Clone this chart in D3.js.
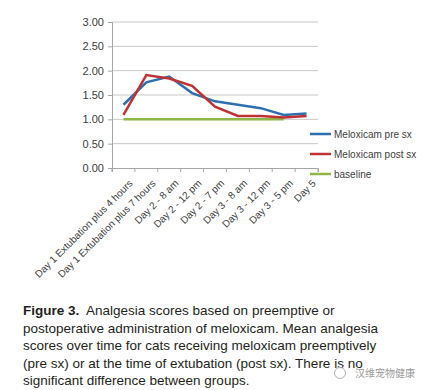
<!DOCTYPE html>
<html>
<head>
<meta charset="utf-8">
<title>Figure 3</title>
<style>
  body { margin: 0; background: #fff; }
  .tick text { font: 10px "Liberation Sans", Arial, sans-serif; fill: #404040; }
  .caption { font: 13.5px "Liberation Sans", Arial, sans-serif; fill: #231f20; }
  .legend text { font: 10px "Liberation Sans", Arial, sans-serif; fill: #404040; }
</style>
</head>
<body>
<script src="https://cdnjs.cloudflare.com/ajax/libs/d3/7.8.5/d3.min.js"></script>
<script>
  // Data
  const categories = ["Day 1 Extubation plus 4 hours", "Day 1 Extubation plus 7 hours",
    "Day 2 - 8 am", "Day 2 - 12 pm", "Day 2 - 7 pm", "Day 3 -  8 am",
    "Day 3 - 12 pm", "Day 3 - 5 pm", "Day 5"];
  const preSx = [1.30, 1.76, 1.88, 1.54, 1.37, 1.30, 1.23, 1.09, 1.12];
  const postSx = [1.09, 1.91, 1.84, 1.69, 1.26, 1.07, 1.07, 1.04, 1.07];
  const baseline = [1, 1, 1, 1, 1, 1, 1, 1, null];
  const yTicks = [0, 0.5, 1, 1.5, 2, 2.5, 3];

  const series = [
    {name: "Meloxicam pre sx", values: preSx, color: "#2e6fb0"},
    {name: "Meloxicam post sx", values: postSx, color: "#be3234"},
    {name: "baseline", values: baseline, color: "#8db54a"}
  ];

  const svg = d3.select("body").append("svg")
    .attr("width", 428).attr("height", 390);

  const x = d3.scaleBand().domain(categories).range([112, 318]);
  const y = d3.scaleLinear().domain([0, 3]).range([168, 22]);

  // gridlines
  svg.append("g").selectAll("line").data(yTicks.slice(1)).join("line")
    .attr("x1", 112).attr("x2", 318)
    .attr("y1", d => y(d)).attr("y2", d => y(d))
    .attr("stroke", "#c8c8c8").attr("stroke-width", 1);

  // y axis
  const yAxis = svg.append("g").attr("transform", "translate(112,0)")
    .call(d3.axisLeft(y).tickValues(yTicks).tickFormat(d3.format(".2f")).tickSize(4).tickPadding(4));
  yAxis.selectAll("path, line").attr("stroke", "#a6a6a6");
  yAxis.selectAll("text").style("font-size", "11px");

  // x axis
  const xAxis = svg.append("g").attr("transform", `translate(0,${y(0)})`)
    .call(d3.axisBottom(x).tickSizeOuter(0).tickSize(4));
  xAxis.select(".domain").attr("stroke", "#a6a6a6");
  xAxis.selectAll(".tick line")
    .attr("stroke", "#a6a6a6")
    .attr("transform", `translate(${-x.bandwidth() / 2},0)`);
  xAxis.append("line")
    .attr("x1", 318).attr("x2", 318).attr("y1", 0).attr("y2", 4)
    .attr("stroke", "#a6a6a6");
  xAxis.selectAll(".tick text")
    .attr("text-anchor", "end")
    .attr("dx", 0).attr("dy", 0)
    .attr("transform", "translate(5,11) rotate(-45)");

  // lines
  const line = d3.line()
    .defined(d => d != null)
    .x((d, i) => x(categories[i]) + x.bandwidth() / 2)
    .y(d => y(d));

  // draw baseline first, then the others
  [series[2], series[0], series[1]].forEach(s => {
    svg.append("path")
      .attr("d", line(s.values))
      .attr("fill", "none")
      .attr("stroke", s.color)
      .attr("stroke-width", 2.5);
  });

  // legend
  const legend = svg.append("g").attr("class", "legend");
  const ly = [134, 154, 174];
  series.forEach((s, i) => {
    legend.append("line")
      .attr("x1", 310).attr("x2", 331)
      .attr("y1", ly[i]).attr("y2", ly[i])
      .attr("stroke", s.color).attr("stroke-width", 2.5);
    legend.append("text")
      .attr("x", 334).attr("y", ly[i] + 3.5)
      .text(s.name);
  });

  // caption
  const captionLines = [
    "Analgesia scores based on preemptive or",
    "postoperative administration of meloxicam. Mean analgesia",
    "scores over time for cats receiving meloxicam preemptively",
    "(pre sx) or at the time of extubation (post sx). There is no",
    "significant difference between groups."
  ];
  const cap = svg.append("text").attr("class", "caption");
  captionLines.forEach((t, i) => {
    const ts = cap.append("tspan").attr("x", 23).attr("y", 315 + i * 17.5);
    if (i === 0) {
      ts.append("tspan").attr("font-weight", "bold").text("Figure 3.");
      ts.append("tspan").text("\u00a0 " + t);
    } else {
      ts.text(t);
    }
  });

  // watermark
  const wm = svg.append("g").attr("transform", "translate(333,377)");
  wm.append("circle").attr("cx", 7).attr("cy", -4).attr("r", 5.5)
    .attr("fill", "none").attr("stroke", "#b0b0b0").attr("stroke-width", 1);
  wm.append("text").attr("x", 22).attr("y", 0)
    .style("font", "10px 'Noto Sans CJK SC', sans-serif")
    .attr("fill", "#9a9a9a")
    .text("汉维宠物健康");
</script>
</body>
</html>
